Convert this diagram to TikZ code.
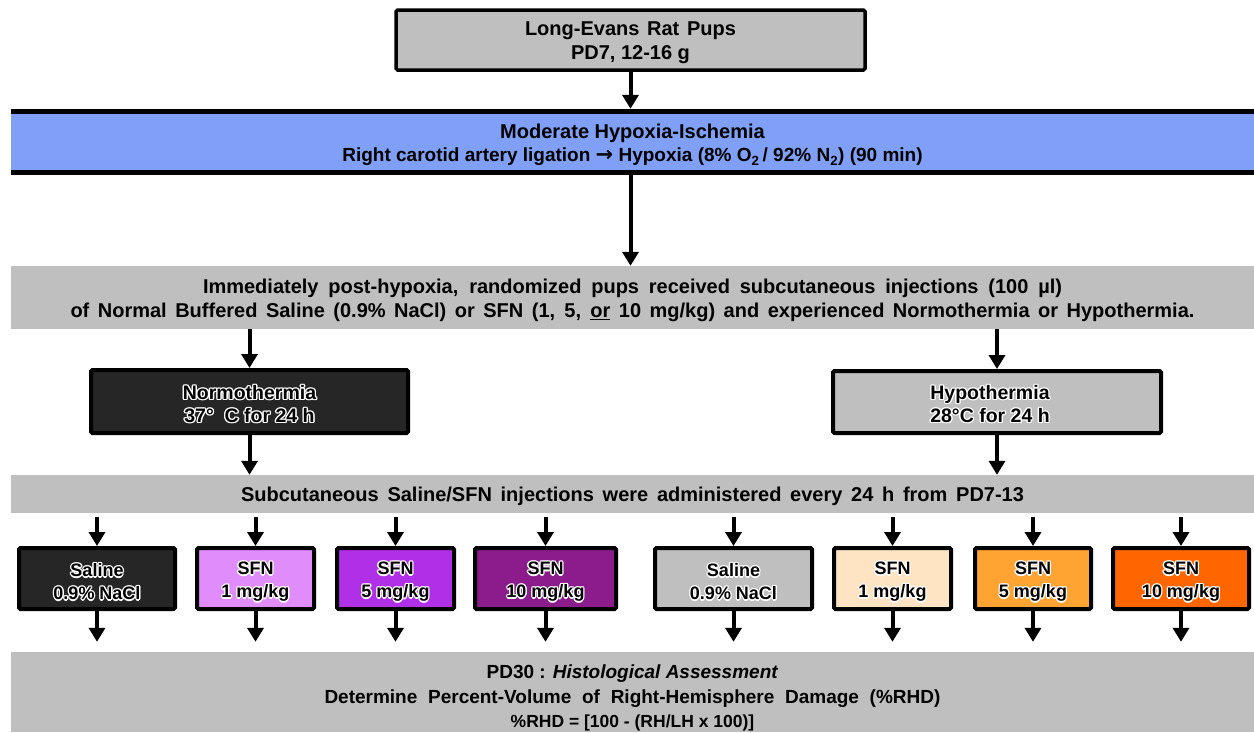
\documentclass[tikz,border=0pt]{standalone}
\usepackage{fontspec}
\setmainfont{Liberation Sans}
\newfontfamily\arrowfont{DejaVu Sans}
\usetikzlibrary{arrows.meta,calc}
\definecolor{gfill}{RGB}{191,191,191}
\definecolor{bfill}{RGB}{128,159,247}
\definecolor{darkf}{RGB}{38,38,38}
\definecolor{pA}{RGB}{224,140,250}
\definecolor{pB}{RGB}{176,48,232}
\definecolor{pC}{RGB}{140,28,140}
\definecolor{oA}{RGB}{255,228,196}
\definecolor{oB}{RGB}{255,163,51}
\definecolor{oC}{RGB}{255,102,0}
\newlength\hl \setlength\hl{1.4pt}
\newcommand\halo[1]{{\sbox0{\color{white}#1}%
\makebox[0pt][l]{\kern\hl\usebox0}%
\makebox[0pt][l]{\kern-\hl\usebox0}%
\makebox[0pt][l]{\raisebox{\hl}{\usebox0}}%
\makebox[0pt][l]{\raisebox{-\hl}{\usebox0}}%
\makebox[0pt][l]{\kern.7\hl\raisebox{.7\hl}{\usebox0}}%
\makebox[0pt][l]{\kern-.7\hl\raisebox{.7\hl}{\usebox0}}%
\makebox[0pt][l]{\kern.7\hl\raisebox{-.7\hl}{\usebox0}}%
\makebox[0pt][l]{\kern-.7\hl\raisebox{-.7\hl}{\usebox0}}%
\color{black}#1}}
\newcommand\fs[2]{\fontsize{#1}{#2}\selectfont}
\begin{document}
\begin{tikzpicture}[x=1pt,y=-1pt,
  base/.style={inner sep=0pt, align=center, font=\bfseries},
  boxA/.style={base, draw=black, line width=3.5pt, rounded corners=1.5pt},
  band/.style={base, fill=gfill, minimum width=1243pt},
  small/.style={boxA, line width=4pt, minimum height=61pt},
  stxt/.style={base, font=\bfseries\fs{18}{23}},
  arr/.style={line width=4pt, -{Triangle[width=16pt,length=14pt]}}]
\useasboundingbox (0,0) rectangle (1254,732);

% top box
\node[boxA, fill=gfill, minimum width=469pt, minimum height=60pt] (top) at (630.5,40) {};
\node[base, font=\bfseries\fs{20}{24}] (topT) at (630.5,43)
  {\makebox[211pt][s]{Long-Evans Rat Pups}\\PD7, 12-16 g};

% blue band
\node[base, fill=bfill, minimum width=1243pt, minimum height=66pt] (blue) at (632.5,142) {};
\node[base, font=\bfseries\fs{20}{23.5}] (blueT) at (632.5,145)
  {Moderate Hypoxia-Ischemia\\
   {\fs{19}{23.5}Right carotid artery ligation {\arrowfont\bfseries\fs{21}{23.5}→} Hypoxia (8\% O\textsubscript{2}\,/ 92\% N\textsubscript{2}) (90 min)}};
\draw[line width=5pt] ([yshift=-2.5pt]blue.north west) -- ([yshift=-2.5pt]blue.north east);
\draw[line width=5pt] ([yshift=2.5pt]blue.south west) -- ([yshift=2.5pt]blue.south east);

% band 1
\node[band, minimum height=63pt] (band1) at (632.5,297.5) {};
\node[base, font=\bfseries\fs{20}{24}] (band1T) at (632.5,300.5)
  {\makebox[859pt][s]{Immediately post-hypoxia, randomized pups received subcutaneous injections (100 µl)}\\
   \makebox[1124pt][s]{of Normal Buffered Saline (0.9\% NaCl) or SFN (1, 5, \underline{or} 10 mg/kg) and experienced Normothermia or Hypothermia.}};

% temperature boxes
\node[boxA, line width=4pt, fill=darkf, minimum width=317pt, minimum height=63pt] (normo) at (249.5,401.5) {};
\node[base, font=\bfseries\fs{19.5}{23}] (normoT) at (249.5,404)
  {\halo{Normothermia}\\\halo{37°\ \ C for 24 h}};
\node[boxA, line width=4pt, fill=gfill, minimum width=328pt, minimum height=62pt] (hypo) at (997,402) {};
\node[base, font=\bfseries\fs{19.5}{23}] (hypoT) at (990,404)
  {\halo{Hypothermia}\\\halo{28°C for 24 h}};

% band 2
\node[band, minimum height=38pt] (band2) at (632.5,494) {};
\node[base, font=\bfseries\fs{20}{23}] (band2T) at (632.5,496)
  {\makebox[783pt][s]{Subcutaneous Saline/SFN injections were administered every 24 h from PD7-13}};

% small boxes
\node[small, fill=darkf, minimum width=156pt] (b1) at (97,578.5) {};
\node[small, fill=pA, minimum width=117pt] (b2) at (255.5,578.5) {};
\node[small, fill=pB, minimum width=117pt] (b3) at (395.5,578.5) {};
\node[small, fill=pC, minimum width=141pt] (b4) at (545.5,578.5) {};
\node[small, fill=gfill, minimum width=157pt] (b5) at (733.5,578.5) {};
\node[small, fill=oA, minimum width=117pt] (b6) at (892.5,578.5) {};
\node[small, fill=oB, minimum width=116pt] (b7) at (1033,578.5) {};
\node[small, fill=oC, minimum width=136pt] (b8) at (1181,578.5) {};
\node[stxt] (t1) at (b1.center) [yshift=-3.5pt] {\halo{Saline}\\\halo{0.9\% NaCl}};
\node[stxt] (t2) at (b2.center) [yshift=-3.5pt] {\halo{SFN}\\\halo{1 mg/kg}};
\node[stxt] (t3) at (b3.center) [yshift=-3.5pt] {\halo{SFN}\\\halo{5 mg/kg}};
\node[stxt] (t4) at (b4.center) [yshift=-3.5pt] {\halo{SFN}\\\halo{10 mg/kg}};
\node[stxt] (t5) at (b5.center) [yshift=-3.5pt] {\halo{Saline}\\\halo{0.9\% NaCl}};
\node[stxt] (t6) at (b6.center) [yshift=-3.5pt] {\halo{SFN}\\\halo{1 mg/kg}};
\node[stxt] (t7) at (b7.center) [yshift=-3.5pt] {\halo{SFN}\\\halo{5 mg/kg}};
\node[stxt] (t8) at (b8.center) [yshift=-3.5pt] {\halo{SFN}\\\halo{10 mg/kg}};

% bottom band
\node[band, minimum height=80pt] (bot) at (632.5,692) {};
\node[base, font=\bfseries\fs{19}{24.5}] (botT) at (632.5,698)
  {PD30 : \textit{Histological Assessment}\\
   \makebox[616pt][s]{Determine Percent-Volume of Right-Hemisphere Damage (\%RHD)}\\
   {\fs{17.5}{22}\%RHD = [100 - (RH/LH x 100)]}};

% arrows
\draw[arr] (top.south) -- (top.south |- blue.north);
\draw[arr] (top.south |- blue.south) -- (top.south |- band1.north);
\draw[arr] (normo.north |- band1.south) -- (normo.north);
\draw[arr] (hypo.north |- band1.south) -- (hypo.north);
\draw[arr] (normo.south) -- (normo.south |- band2.north);
\draw[arr] (hypo.south) -- (hypo.south |- band2.north);
\foreach \b in {b1,b2,b3,b4,b5,b6,b7,b8}{
  \draw[arr, shorten <=4pt] (\b.north |- band2.south) -- (\b.north);
  \draw[arr, shorten >=10pt] (\b.south) -- (\b.south |- bot.north);
}
\end{tikzpicture}
\end{document}
